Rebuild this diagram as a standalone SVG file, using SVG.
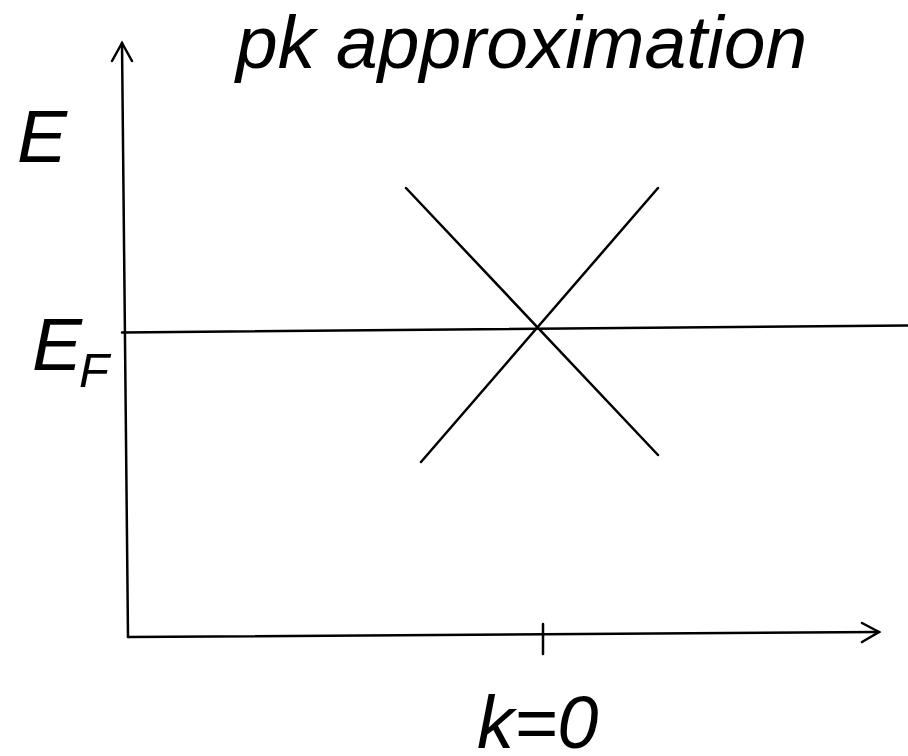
<svg xmlns="http://www.w3.org/2000/svg" width="908" height="756" viewBox="0 0 908 756">
<style>
.ln{stroke:#000;stroke-width:2.5;fill:none;stroke-linecap:round}
.t{font-family:"Liberation Sans",Arial,sans-serif;font-style:italic;fill:#000}
</style>
<rect width="908" height="756" fill="#fff"/>
<g id="connectors">
<line class="ln" x1="128" y1="637" x2="122" y2="43"/>
<polyline class="ln" points="112,61 122,43 132,61"/>
<line class="ln" x1="128" y1="637" x2="879" y2="632"/>
<polyline class="ln" points="862,623 879,632 862,642"/>
<line class="ln" x1="543" y1="624" x2="543" y2="654"/>
<line class="ln" x1="122" y1="332.5" x2="908" y2="325.5"/>
<line class="ln" x1="406" y1="188" x2="658" y2="455"/>
<line class="ln" x1="658" y1="188" x2="421" y2="462"/>
</g>
<g id="title"><text class="t" x="236" y="68" font-size="75">pk approximation</text></g>
<g id="label-E"><text class="t" x="17" y="162" font-size="75">E</text></g>
<g id="label-EF"><text class="t" x="32" y="370" font-size="75">E</text><text class="t" x="79" y="387" font-size="49">F</text></g>
<g id="label-k"><text class="t" x="477" y="748" font-size="74">k=0</text></g>
</svg>
